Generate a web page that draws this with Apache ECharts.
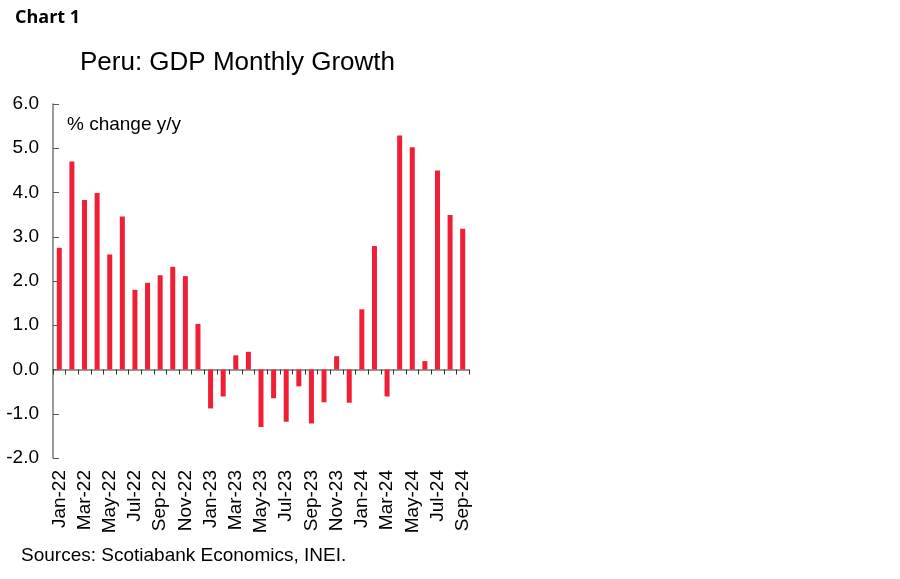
<!DOCTYPE html>
<html>
<head>
<meta charset="utf-8">
<script src="https://cdn.jsdelivr.net/npm/echarts@6/dist/echarts.min.js"></script>
<style>html,body{margin:0;padding:0;background:#fff}#c{width:900px;height:579px}</style>
</head>
<body>
<div id="c"></div>
<script>
const categories = ["Jan-22","Feb-22","Mar-22","Apr-22","May-22","Jun-22","Jul-22","Aug-22","Sep-22","Oct-22","Nov-22","Dec-22",
"Jan-23","Feb-23","Mar-23","Apr-23","May-23","Jun-23","Jul-23","Aug-23","Sep-23","Oct-23","Nov-23","Dec-23",
"Jan-24","Feb-24","Mar-24","Apr-24","May-24","Jun-24","Jul-24","Aug-24","Sep-24"];
const gdpGrowth = [2.75,4.70,3.83,3.99,2.60,3.46,1.80,1.96,2.13,2.32,2.11,1.03,
-0.88,-0.61,0.32,0.40,-1.30,-0.65,-1.18,-0.38,-1.22,-0.74,0.30,-0.75,
1.36,2.79,-0.61,5.29,5.02,0.19,4.50,3.49,3.18];
const yTicks = {min:-2, max:6, interval:1};

const chart = echarts.init(document.getElementById('c'));
const font = 'Liberation Sans, Arial, sans-serif';
chart.setOption({
  animation:false,
  backgroundColor:'#fff',
  graphic:[
    {type:'text', left:15, top:9, style:{text:'Chart 1', font:'bold 18px "Open Sans", sans-serif', fill:'#000'}},
    {type:'text', left:80, top:50, style:{text:'Peru: GDP Monthly Growth', font:'26px '+font, fill:'#000'}},
    {type:'text', left:67, top:115, style:{text:'% change y/y', font:'19px '+font, fill:'#000'}},
    {type:'text', left:21, top:546, style:{text:'Sources: Scotiabank Economics, INEI.', font:'19px '+font, fill:'#000'}}
  ],
  grid:{left:53, right:431, top:104, bottom:121, containLabel:false},
  xAxis:[{
    type:'category', data:categories, position:'bottom',
    axisLine:{show:false, onZero:false}, axisTick:{show:false},
    axisLabel:{interval:1, rotate:90, margin:12, fontSize:19, fontFamily:font, color:'#000'}
  },{
    type:'category', data:categories, position:'bottom',
    axisLine:{show:true, onZero:true, lineStyle:{color:'#777', width:1.5}},
    axisTick:{show:true, interval:0, length:5, lineStyle:{color:'#333'}},
    axisLabel:{show:false}
  }],
  yAxis:{
    type:'value', min:yTicks.min, max:yTicks.max, interval:yTicks.interval,
    axisLine:{show:true, lineStyle:{color:'#777', width:1.5}},
    axisTick:{show:true, inside:true, length:6, lineStyle:{color:'#555'}},
    splitLine:{show:false},
    axisLabel:{margin:14, fontSize:19, fontFamily:font, color:'#000', formatter:v=>v.toFixed(1)}
  },
  series:[{type:'bar', data:gdpGrowth, xAxisIndex:0, barWidth:5, itemStyle:{color:'#f01f35'}}]
});
</script>
</body>
</html>
